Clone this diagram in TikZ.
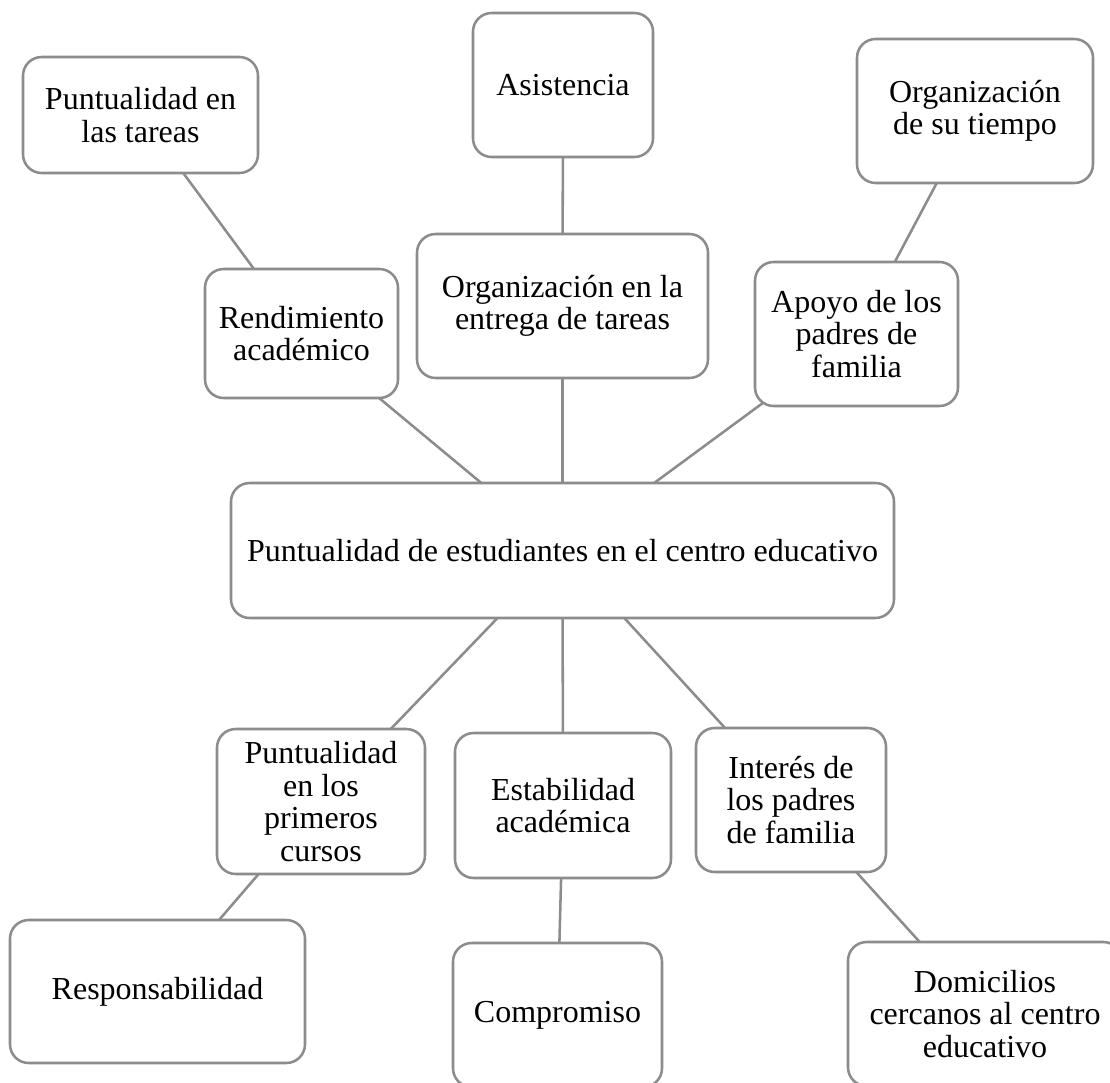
\documentclass[tikz,border=0pt]{standalone}
\usepackage{fontspec}
\setmainfont{Liberation Serif}
\usetikzlibrary{backgrounds}
\definecolor{edgegray}{RGB}{140,140,140}
\begin{document}
\begin{tikzpicture}[x=0.75pt,y=-0.75pt,
  box/.style={draw=edgegray, line width=1.9pt, fill=white, rounded corners=14pt,
    align=center, inner sep=0pt, font=\fontsize{24}{24.4}\selectfont},
  sz/.style 2 args={minimum width={#1*0.75pt}, minimum height={#2*0.75pt}},
  link/.style={draw=edgegray, line width=1.9pt}]
\useasboundingbox (0,0) rectangle (1110,1082);

\node[box, sz={235}{116}] (A) at (140.5,115) {Puntualidad en\\las tareas};
\node[box, sz={180}{144}] (B) at (563,85) {Asistencia};
\node[box, sz={236}{144}] (C) at (975,111) {Organización\\de su tiempo};
\node[box, sz={193}{129}] (D) at (301.5,333.5) {Rendimiento\\académico};
\node[box, sz={291}{144}] (E) at (562.5,306) {Organización en la\\entrega de tareas};
\node[box, sz={203}{144}] (F) at (856.5,334) {Apoyo de los\\padres de\\familia};
\node[box, sz={663}{135}] (G) at (562.5,550.5) {Puntualidad de estudiantes en el centro educativo};
\node[box, sz={208}{145}] (H) at (321,801.5) {Puntualidad\\en los\\primeros\\cursos};
\node[box, sz={216}{145}] (I) at (563,805.5) {Estabilidad\\académica};
\node[box, sz={190}{144}] (J) at (791,800) {Interés de\\los padres\\de familia};
\node[box, sz={295}{143}] (K) at (157.5,991.5) {Responsabilidad};
\node[box, sz={209}{144}] (L) at (557.5,1015) {Compromiso};
\node[box, sz={274}{144}] (M) at (985,1014) {Domicilios\\cercanos al centro\\educativo};

\begin{scope}[on background layer]
  \draw[link] (A.center) -- (D.center);
  \draw[link] (B.center) -- (E.center);
  \draw[link] (C.center) -- (F.center);
  \draw[link] (D.center) -- (G.center);
  \draw[link] (E.center) -- (G.center);
  \draw[link] (F.center) -- (G.center);
  \draw[link] (G.center) -- (H.center);
  \draw[link] (G.center) -- (I.center);
  \draw[link] (G.center) -- (J.center);
  \draw[link] (H.center) -- (K.center);
  \draw[link] (I.center) -- (L.center);
  \draw[link] (J.center) -- (M.center);
\end{scope}
\end{tikzpicture}
\end{document}
